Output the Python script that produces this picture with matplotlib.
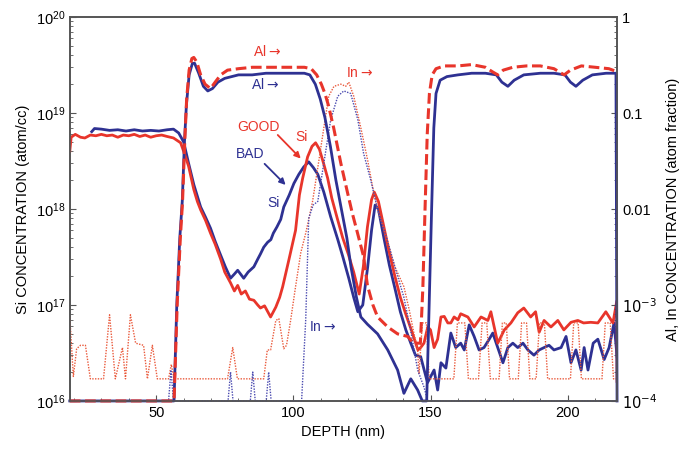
import matplotlib
matplotlib.use('Agg')
import matplotlib.pyplot as plt
from matplotlib.ticker import MultipleLocator, LogLocator, FixedLocator, FixedFormatter

plt.rcParams['font.family'] = ['Liberation Sans', 'DejaVu Sans']
plt.rcParams['font.size'] = 10.5

RED = '#e8352b'
BLUE = '#2e3192'
RED_IN = '#ea5a3c'
BLUE_IN = '#4a4ab0'

# Si, GOOD sample (atom/cc)
si_good_depth = [18.5, 19.0, 20.5, 22.4, 24, 26, 28, 30, 32, 34, 36, 38, 40, 42, 44, 46, 48, 50, 52, 54,
                 56.3, 58.9, 60, 61.8, 63.7, 65, 66.2, 68, 69.8, 71.5, 73.5, 75, 77.1, 78.5, 79.7, 81,
                 82.5, 84, 85.6, 87, 88, 89.5, 91.7, 93.6, 95, 96.1, 98.3, 100.8, 102.2, 103.4, 105.2,
                 106.8, 108.1, 109.5, 111, 112.5, 114, 116, 118, 120, 122, 124, 125.5, 127, 128.5, 129.5,
                 131, 133, 135, 137, 139, 141, 143, 145.4, 146.4, 147.6, 149, 150, 151.3, 152.6, 153.8,
                 155, 156.3, 157.4, 158.6, 160, 161, 163.6, 165.9, 168.4, 170.9, 172, 174.5, 176.9,
                 179.3, 181.8, 184, 186.5, 188.3, 189.6, 191.4, 193.9, 196.4, 198.6, 201.2, 203.7,
                 205.8, 208.4, 211, 213.9, 216.5, 217.9, 218]
si_good = [4.0e18, 5.6e18, 6.0e18, 5.6e18, 5.5e18, 5.9e18, 5.8e18, 6.0e18, 5.8e18, 5.9e18, 5.6e18,
           5.9e18, 5.8e18, 6.0e18, 5.7e18, 5.9e18, 5.6e18, 5.8e18, 5.9e18, 5.7e18,
           5.5e18, 4.9e18, 4.0e18, 2.8e18, 1.6e18, 1.2e18, 9.8e17, 7.6e17, 5.6e17, 4.3e17, 3.0e17,
           2.2e17, 1.7e17, 1.4e17, 1.6e17, 1.3e17, 1.4e17, 1.15e17, 1.12e17, 1.0e17, 9.3e16, 9.8e16,
           7.5e16, 9.5e16, 1.2e17, 1.55e17, 2.9e17, 6.0e17, 1.4e18, 2.1e18, 3.5e18, 4.5e18, 4.9e18,
           4.2e18, 3.0e18, 2.1e18, 1.3e18, 8.0e17, 5.0e17, 3.4e17, 2.2e17, 1.3e17, 2.5e17, 6.5e17,
           1.25e18, 1.5e18, 1.2e18, 6.5e17, 3.5e17, 2.0e17, 1.2e17, 8.0e16, 5.5e16, 3.4e16, 3.6e16,
           4.0e16, 5.9e16, 5.5e16, 3.6e16, 4.4e16, 7.5e16, 7.6e16, 6.5e16, 6.5e16, 7.5e16, 7.0e16,
           8.1e16, 7.5e16, 5.9e16, 7.5e16, 6.9e16, 8.5e16, 4.0e16, 5.5e16, 6.5e16, 8.3e16, 9.3e16,
           7.5e16, 8.5e16, 5.2e16, 6.9e16, 5.9e16, 6.9e16, 5.5e16, 6.6e16, 6.9e16, 6.5e16, 6.6e16,
           6.5e16, 8.5e16, 6.5e16, 1.1e17, 1.6e16]

# Si, BAD sample (atom/cc)
si_bad_depth = [26.5, 27.5, 30, 33, 36, 39, 42, 45, 48, 51, 54, 56.3, 58.2, 60, 61.8, 63.7, 66.2, 68,
                69.8, 71.5, 73.5, 75.2, 77.1, 78.5, 79.7, 81.9, 83.5, 85.6, 87, 88, 89.2, 90.6, 91.8,
                92.7, 94, 95.4, 96.5, 98.5, 100.2, 102, 103.8, 105.6, 107.3, 108.9, 111.1, 113.6,
                116.2, 118, 120.2, 122, 123.5, 125.3, 127.1, 128.5, 129.8, 131, 133, 135, 137, 139,
                141, 142.8, 144.5, 146.4, 148.9, 151.3, 152.6, 153.8, 155.6, 157.4, 159.2, 161, 162.3,
                164.1, 165.9, 167.7, 169.5, 171.4, 172.7, 174.5, 176.4, 178.2, 180, 181.8, 183.7,
                185.5, 187.7, 189.6, 191.4, 193.2, 195, 197.6, 199.4, 201.2, 203, 204.9, 206, 207.4,
                209.3, 211, 213.3, 215.1, 216.9, 218]
si_bad = [6.4e18, 6.9e18, 6.8e18, 6.6e18, 6.7e18, 6.5e18, 6.7e18, 6.5e18, 6.6e18, 6.5e18, 6.7e18,
          6.8e18, 6.2e18, 5.0e18, 3.0e18, 1.8e18, 1.05e18, 8.2e17, 6.3e17, 4.6e17, 3.3e17, 2.5e17,
          1.9e17, 2.1e17, 2.3e17, 1.9e17, 2.2e17, 2.5e17, 3.0e17, 3.4e17, 4.0e17, 4.5e17, 4.8e17,
          5.6e17, 6.5e17, 7.8e17, 1.05e18, 1.4e18, 1.85e18, 2.3e18, 2.75e18, 3.1e18, 2.7e18, 2.3e18,
          1.5e18, 8.3e17, 4.8e17, 3.2e17, 1.9e17, 1.2e17, 8.5e16, 1.0e17, 2.5e17, 6.0e17, 1.1e18,
          1.0e18, 5.0e17, 2.6e17, 1.5e17, 8.5e16, 5.5e16, 4.0e16, 3.0e16, 2.9e16, 1.55e16, 2.1e16,
          1.3e16, 2.5e16, 2.2e16, 5.1e16, 3.6e16, 4.0e16, 3.4e16, 6.2e16, 4.7e16, 3.4e16, 3.6e16,
          4.4e16, 5.1e16, 3.6e16, 2.5e16, 3.6e16, 4.0e16, 3.6e16, 4.0e16, 3.4e16, 3.0e16, 3.4e16,
          3.6e16, 3.8e16, 3.4e16, 3.6e16, 4.7e16, 2.5e16, 3.4e16, 2.1e16, 3.6e16, 2.1e16, 4.0e16,
          4.4e16, 2.7e16, 3.6e16, 6.5e16, 2.9e16]

# Al, GOOD sample (atom fraction)
al_good_depth = [18.5, 56.5, 57.7, 58.8, 59.6, 60.4, 61.1, 62.0, 63.0, 63.7, 64.8, 66.2, 67.8, 69.8,
                 71.5, 73.5, 76, 80, 85, 90, 95, 100, 104, 106.5, 108.5, 110.2, 111.5, 112.8, 114.7,
                 117.3, 119.7, 121.5, 123.4, 125.6, 127, 129, 130.7, 134.4, 138, 141.7, 143.8, 146.3,
                 147.2, 148.0, 148.8, 149.6, 150.6, 152, 155, 160, 165, 170, 172.5, 174.5, 176.5, 180,
                 185, 190, 195, 198.7, 201, 205, 210, 215, 218]
al_good = [1.0e-4, 1.0e-4, 1.1e-3, 5e-3, 0.012, 0.05, 0.14, 0.28, 0.37, 0.38, 0.34, 0.25, 0.2, 0.18,
           0.21, 0.25, 0.28, 0.29, 0.30, 0.30, 0.30, 0.30, 0.30, 0.29, 0.25, 0.2, 0.16, 0.12, 0.07,
           0.03, 0.015, 9e-3, 5.6e-3, 3.2e-3, 1.6e-3, 1.0e-3, 7.5e-4, 5.9e-4, 5.0e-4, 4.7e-4, 4.0e-4,
           4.0e-4, 1.5e-3, 0.01, 0.06, 0.16, 0.25, 0.29, 0.31, 0.31, 0.32, 0.30, 0.27, 0.25, 0.28,
           0.30, 0.31, 0.31, 0.29, 0.25, 0.28, 0.31, 0.30, 0.29, 0.27]

# Al, BAD sample (atom fraction)
al_bad_depth = [18.5, 56.5, 57.5, 58.6, 59.5, 60.3, 61, 62, 63.2, 64, 65.5, 67.2, 68.8, 70.5, 72.5,
                75, 80, 85, 90, 95, 100, 104, 106, 108, 109.8, 111.5, 113.5, 115.5, 117.5, 119.5,
                121, 123, 124.6, 127, 130.7, 134.4, 138, 140.3, 142.8, 145.3, 147, 148.6, 149.5,
                150.4, 151.2, 152, 153.5, 156, 160, 165, 170, 174, 176, 178.2, 180.5, 184, 190, 195,
                199, 201, 203, 205.5, 209, 214, 217.6, 218]
al_bad = [1.0e-4, 1.0e-4, 1.0e-3, 5e-3, 0.012, 0.05, 0.12, 0.25, 0.33, 0.33, 0.26, 0.19, 0.17, 0.18,
          0.21, 0.23, 0.25, 0.25, 0.26, 0.26, 0.26, 0.26, 0.25, 0.2, 0.14, 0.09, 0.045, 0.02, 0.01,
          5e-3, 2.5e-3, 1.2e-3, 7.5e-4, 6.3e-4, 5.0e-4, 3.4e-4, 2.1e-4, 1.2e-4, 1.7e-4, 1.3e-4,
          1.0e-4, 1.0e-4, 1e-3, 0.01, 0.07, 0.16, 0.22, 0.24, 0.25, 0.26, 0.26, 0.25, 0.21, 0.19,
          0.22, 0.25, 0.26, 0.26, 0.25, 0.21, 0.19, 0.22, 0.25, 0.26, 0.26, 1.0e-4]

# In, GOOD sample (atom fraction)
in_good_depth = [18.5, 19.8, 21, 22.4, 24.2, 26, 30.8, 33, 35.1, 37.7, 38.8, 40.6, 42.5, 45.4, 46.8,
                 48.6, 50.4, 54.5, 55.5, 56.5, 76, 77.9, 79.6, 89.2, 90.5, 91.7, 93.6, 94.7, 96.5, 97.5,
                 99, 100.8, 102.7, 104.5, 105.6, 107, 109.3, 111.1, 112.9, 114.8, 117.3, 119.1, 120.2,
                 122, 124.6, 127.1, 128.9, 130.7, 134, 137, 140.3, 142.2, 144, 145.3, 145.8, 147, 148.5,
                 149.5, 158.5, 159.8, 162.5, 163.8, 167.5, 168.8, 170.5, 171.8, 175, 176.2, 177.6,
                 178.8, 182, 183.2, 185, 186.2, 188.5, 189.7, 191.5, 192.7, 201, 202.2, 203.8, 205,
                 212.5, 213.7, 215.5, 216.7, 218]
in_good = [7.5e-4, 1.8e-4, 3.5e-4, 3.8e-4, 3.8e-4, 1.7e-4, 1.7e-4, 7.9e-4, 1.7e-4, 3.6e-4, 1.7e-4,
           7.9e-4, 4.0e-4, 3.8e-4, 1.7e-4, 3.8e-4, 1.7e-4, 1.7e-4, 2.4e-4, 1.7e-4, 1.7e-4, 3.6e-4,
           1.7e-4, 1.7e-4, 3.4e-4, 3.4e-4, 6.9e-4, 7.2e-4, 3.5e-4, 3.8e-4, 6.9e-4, 1.55e-3, 3.5e-3,
           5.6e-3, 7.8e-3, 0.012, 0.032, 0.07, 0.15, 0.19, 0.2, 0.19, 0.21, 0.15, 0.07, 0.032, 0.017,
           9.8e-3, 5e-3, 2.5e-3, 1.55e-3, 9e-4, 5e-4, 3.4e-4, 1.9e-4, 6.5e-4, 6.5e-4, 1.7e-4,
           1.7e-4, 6.5e-4, 6.5e-4, 1.7e-4, 1.7e-4, 6.5e-4, 6.5e-4, 1.7e-4, 1.7e-4, 6.5e-4, 6.5e-4,
           1.7e-4, 1.7e-4, 6.5e-4, 6.5e-4, 1.7e-4, 1.7e-4, 6.5e-4, 6.5e-4, 1.7e-4, 1.7e-4, 6.5e-4,
           6.5e-4, 1.7e-4, 1.7e-4, 6.5e-4, 6.5e-4, 1.7e-4, 1.7e-4]

# In, BAD sample (atom fraction)
in_bad_depth = [18.5, 54.5, 55.4, 56.3, 76.2, 77.1, 78, 84.3, 85.2, 86.1, 90.1, 91, 91.9, 103, 104.5,
                105.6, 107.2, 108.9, 111.1, 113.6, 116.2, 118.4, 120.9, 123.5, 125.6, 128.2, 130.7,
                134, 137, 140.3, 143, 145.3, 147.6, 149, 218]
in_bad = [1e-4, 1e-4, 2.1e-4, 1e-4, 1e-4, 2.0e-4, 1e-4, 1e-4, 2.0e-4, 1e-4, 1e-4, 2.0e-4, 1e-4, 1e-4,
          7e-4, 8e-3, 0.011, 0.012, 0.03, 0.085, 0.15, 0.17, 0.16, 0.085, 0.038, 0.02, 0.01, 5e-3,
          2.5e-3, 1.2e-3, 5e-4, 2.1e-4, 1.4e-4, 1e-4, 1e-4]

fig = plt.figure(figsize=(6.91, 4.5), dpi=100)
ax = fig.add_axes([0.101, 0.109, 0.792, 0.853])
ax2 = ax.twinx()

ax.plot(si_bad_depth, si_bad, color=BLUE, lw=2.0, zorder=3)
ax.plot(si_good_depth, si_good, color=RED, lw=2.0, zorder=4)

ax2.plot(in_good_depth, in_good, color=RED_IN, lw=1.0, ls=(0, (1, 1)))
ax2.plot(in_bad_depth, in_bad, color=BLUE_IN, lw=1.0, ls=(0, (1, 1)), clip_on=False)
ax2.plot(al_bad_depth, al_bad, color=BLUE, lw=2.0, clip_on=False)
ax2.plot(al_good_depth, al_good, color=RED, lw=2.2, ls=(0, (3.5, 1.5)), clip_on=False)

ax.set_xlim(18.5, 218)
ax.set_yscale('log')
ax.set_ylim(1e16, 1e20)
ax2.set_yscale('log')
ax2.set_ylim(1e-4, 1)

ax.xaxis.set_major_locator(FixedLocator([50, 100, 150, 200]))
ax.xaxis.set_minor_locator(MultipleLocator(10))
ax.yaxis.set_major_locator(LogLocator(base=10, numticks=10))
ax.yaxis.set_minor_locator(LogLocator(base=10, subs=range(2, 10), numticks=10))
ax2.yaxis.set_major_locator(FixedLocator([1e-4, 1e-3, 1e-2, 1e-1, 1]))
ax2.yaxis.set_major_formatter(FixedFormatter(['$10^{-4}$', '$10^{-3}$', '0.01', '0.1', '1']))
ax2.yaxis.set_minor_locator(LogLocator(base=10, subs=range(2, 10), numticks=10))
ax2.yaxis.set_minor_formatter(FixedFormatter([]))

for a in (ax, ax2):
    a.tick_params(which='both', direction='in', labelsize=10.5, color='#555555')
    a.tick_params(which='major', length=4)
    a.tick_params(which='minor', length=2)
    for s in a.spines.values():
        s.set_color('#555555')
        s.set_linewidth(1.2)

ax.set_xlabel('DEPTH (nm)', fontsize=10.5)
ax.set_ylabel('Si CONCENTRATION (atom/cc)', fontsize=10.5)
ax2.set_ylabel('Al, In CONCENTRATION (atom fraction)', fontsize=10.5, rotation=90, labelpad=6)

# annotations
arrow = '$\\rightarrow$'
ax.text(90.5, 4.4e19, 'Al' + arrow, color=RED, fontsize=10, ha='center', va='center')
ax.text(89.8, 2.0e19, 'Al' + arrow, color=BLUE, fontsize=10, ha='center', va='center')
ax.text(124.0, 2.6e19, 'In' + arrow, color=RED, fontsize=10, ha='center', va='center')
ax.text(110.8, 5.9e16, 'In' + arrow, color=BLUE, fontsize=10, ha='center', va='center')
ax.text(87.3, 7.2e18, 'GOOD', color=RED, fontsize=10, ha='center', va='center')
ax.text(103.0, 5.6e18, 'Si', color=RED, fontsize=10, ha='center', va='center')
ax.text(84.4, 3.7e18, 'BAD', color=BLUE, fontsize=10, ha='center', va='center')
ax.text(92.8, 1.15e18, 'Si', color=BLUE, fontsize=10, ha='center', va='center')
ax.annotate('', xy=(103.4, 3.2e18), xytext=(93.6, 6.2e18),
            arrowprops=dict(arrowstyle='-|>', color=RED, lw=1.3, mutation_scale=9))
ax.annotate('', xy=(97.9, 1.7e18), xytext=(88.8, 3.1e18),
            arrowprops=dict(arrowstyle='-|>', color=BLUE, lw=1.3, mutation_scale=9))

fig.savefig('out.png', dpi=100)
plt.close(fig)
